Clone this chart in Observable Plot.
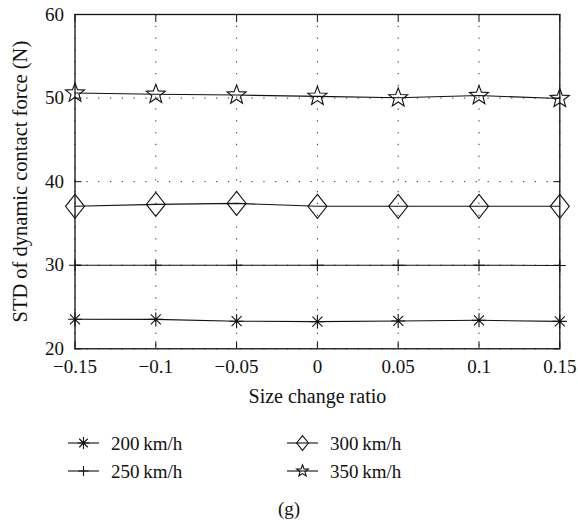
<!DOCTYPE html>
<html><head><meta charset="utf-8">
<script src="https://cdn.jsdelivr.net/npm/d3@7"></script>
<script src="https://cdn.jsdelivr.net/npm/@observablehq/plot@0.6"></script>
<style>
body{margin:0;background:#fff;font-family:"Liberation Serif",serif;}
#chart svg{display:block;}
</style></head><body><div id="chart"></div><div id="legend"></div><script>
const ratios = [-0.15, -0.1, -0.05, 0, 0.05, 0.1, 0.15];
const speeds = ["200\u2009km/h", "250\u2009km/h", "300\u2009km/h", "350\u2009km/h"];
const v200 = [23.53, 23.52, 23.3, 23.25, 23.33, 23.41, 23.28];
const v250 = [30.0, 30.0, 30.0, 30.0, 30.0, 30.0, 29.97];
const v300 = [37.05, 37.28, 37.4, 37.05, 37.05, 37.05, 37.05];
const v350 = [50.6, 50.45, 50.36, 50.2, 50.03, 50.3, 49.95];
const yTicks = [20, 30, 40, 50, 60];
const xLabel = "Size change ratio";
const yLabel = "STD of dynamic contact force (N)";
const caption = "(g)";

const series = [v200, v250, v300, v350];

// custom marker shapes
const symAsterisk = {draw(c){const r=7,d=5;c.moveTo(0,-r);c.lineTo(0,r);c.moveTo(-r,0);c.lineTo(r,0);c.moveTo(-d,-d);c.lineTo(d,d);c.moveTo(-d,d);c.lineTo(d,-d);}};
const symPlus = {draw(c){const r=6;c.moveTo(0,-r);c.lineTo(0,r);c.moveTo(-r,0);c.lineTo(r,0);}};
const symDiamond = {draw(c){const w=9.5,h=12;c.moveTo(0,-h);c.lineTo(w,0);c.lineTo(0,h);c.lineTo(-w,0);c.closePath();}};
const symStar = {draw(c){const R=10,r=4.2;for(let i=0;i<10;i++){const a=-Math.PI/2+i*Math.PI/5;const rr=i%2?r:R;const x=rr*Math.cos(a),y=rr*Math.sin(a);if(i)c.lineTo(x,y);else c.moveTo(x,y);}c.closePath();}};
const symbols = [symAsterisk, symPlus, symDiamond, symStar];

const rows = [];
series.forEach((vals, s) => vals.forEach((v, i) => rows.push({ratio: ratios[i], value: v, speed: speeds[s], s})));

const font = "Liberation Serif";
const dotted = {stroke: "#333", strokeOpacity: 1, strokeWidth: 1, strokeDasharray: "1.3,10.5"};
const fmt = d => d3.format("")(d).replace("-", "\u2212");

const marks = [
  Plot.gridX(ratios, dotted),
  Plot.gridY(yTicks, dotted),
  Plot.axisX(ratios, {anchor: "bottom", tickSize: -7, text: null, label: null, strokeWidth: 1}),
  Plot.axisX(ratios, {anchor: "top", tickSize: -7, text: null, label: null, strokeWidth: 1}),
  Plot.axisY(yTicks, {anchor: "left", tickSize: -7, text: null, label: null, strokeWidth: 1}),
  Plot.axisY(yTicks, {anchor: "right", tickSize: -7, text: null, label: null, strokeWidth: 1}),
  Plot.axisX(ratios, {anchor: "bottom", tickSize: 0, tickPadding: 10.5, label: null, fontSize: 19, tickFormat: fmt}),
  Plot.axisY(yTicks, {anchor: "left", tickSize: 0, tickPadding: 11, label: null, fontSize: 19}),
  Plot.frame({stroke: "#111", strokeWidth: 1.3}),
];
series.forEach((vals, s) => {
  const data = rows.filter(d => d.s === s);
  marks.push(Plot.line(data, {x: "ratio", y: "value", stroke: "#111", strokeWidth: 1.1}));
  marks.push(Plot.dot(data, {x: "ratio", y: "value", symbol: symbols[s], stroke: "#111", fill: "none", strokeWidth: 1.1, r: 6}));
});
marks.push(Plot.text([xLabel], {text: d => d, frameAnchor: "bottom", dy: 48, fontSize: 20, lineAnchor: "middle", textAnchor: "middle"}));
marks.push(Plot.text([yLabel], {text: d => d, frameAnchor: "left", dx: -55, rotate: -90, fontSize: 20.5, lineAnchor: "middle", textAnchor: "middle"}));

const chart = Plot.plot({
  width: 578,
  height: 420,
  marginLeft: 74.5,
  marginRight: 18.7,
  marginTop: 14,
  marginBottom: 71.7,
  style: {fontFamily: font, fontSize: "19px", color: "#111", background: "#fff"},
  x: {domain: [-0.15, 0.15], ticks: ratios},
  y: {domain: [20, 60], ticks: yTicks},
  marks
});
document.getElementById("chart").appendChild(chart);

// legend + caption
const lg = d3.select("#legend").append("svg").attr("width", 578).attr("height", 105)
  .style("display", "block").style("font-family", font);
const pos = [[83.5, 23], [83.5, 51], [302.5, 23], [302.5, 51]];
speeds.forEach((name, s) => {
  const [cx, cy] = pos[s];
  const g = lg.append("g").attr("transform", `translate(${cx},${cy})`);
  g.append("line").attr("x1", -15.5).attr("x2", 15.5).attr("stroke", "#111").attr("stroke-width", 1.1);
  const scale = s >= 2 ? 0.62 : 0.85;
  g.append("path").attr("d", d3.symbol(symbols[s])()).attr("transform", `scale(${scale})`)
    .attr("fill", "none").attr("stroke", "#111").attr("stroke-width", 1.1 / scale);
  lg.append("text").attr("x", cx + 27.5).attr("y", cy).attr("dy", "0.35em").attr("font-size", 19).attr("fill", "#111").text(name);
});
lg.append("text").attr("x", 289).attr("y", 88).attr("dy", "0.35em").attr("text-anchor", "middle")
  .attr("font-size", 19).attr("fill", "#111").text(caption);
</script></body></html>
